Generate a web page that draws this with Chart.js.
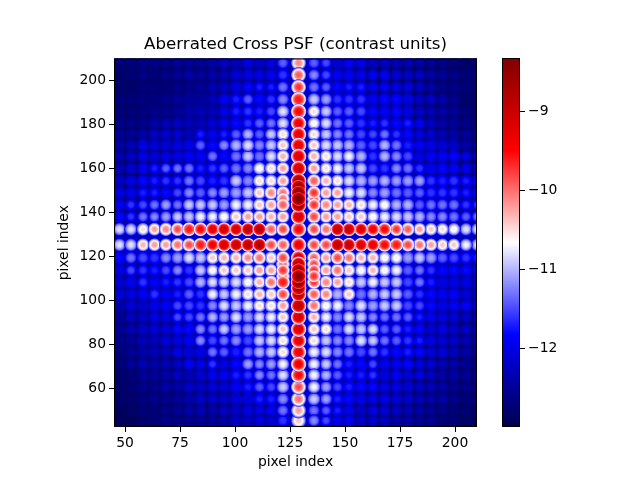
<!DOCTYPE html>
<html><head><meta charset="utf-8">
<style>html,body{margin:0;padding:0;background:#fff;width:640px;height:480px;overflow:hidden}
#wrap{position:relative;width:640px;height:480px}
canvas{position:absolute;left:0;top:0}</style>
<script src="https://cdn.jsdelivr.net/npm/chart.js@4"></script>
</head><body><div id="wrap"><canvas id="main" width="640" height="480"></canvas><canvas id="bar" width="640" height="480"></canvas></div>
<script>
const columnCentres=[47.5,52.7,58.2,63.4,68.6,73.9,79.1,84.3,89.8,95.0,100.5,105.9,111.1,116.4,121.8,128.9,135.9,141.4,146.6,151.8,157.3,162.7,168.0,173.4,178.6,183.9,189.1,194.3,199.5,205.0,210.2];
const rowCentres=[208.0,202.5,197.0,191.4,185.9,180.5,175.5,170.5,165.5,160.0,154.3,148.9,143.4,138.0,132.3,125.2,119.3,113.6,108.2,102.7,97.5,92.3,86.8,81.6,76.4,70.9,65.9,60.5,55.0,49.8,45.2];
const spotValues=[
[-12.7,-12.7,-12.6,-12.6,-12.6,-12.5,-12.5,-12.5,-12.4,-12.2,-12.3,-12.0,-12.2,-12.0,-11.4,-10.1,-11.4,-11.5,-12.1,-11.9,-12.0,-12.2,-12.2,-12.3,-12.3,-12.4,-12.5,-12.6,-12.7,-12.8,-12.8],
[-12.8,-12.7,-12.6,-12.7,-12.6,-12.5,-12.4,-12.5,-12.4,-12.3,-12.1,-12.0,-12.0,-11.9,-11.6,-9.9,-11.2,-11.5,-11.9,-11.9,-12.0,-11.9,-11.9,-12.1,-12.2,-12.2,-12.4,-12.5,-12.6,-12.7,-12.7],
[-12.8,-12.8,-12.7,-12.7,-12.7,-12.6,-12.6,-12.5,-12.3,-12.2,-12.0,-11.8,-11.7,-11.7,-11.3,-9.7,-11.3,-11.4,-11.8,-11.7,-11.7,-11.9,-11.9,-12.0,-12.0,-12.2,-12.4,-12.6,-12.6,-12.7,-12.8],
[-12.7,-12.7,-12.7,-12.7,-12.6,-12.5,-12.5,-12.5,-12.3,-11.9,-11.7,-11.4,-11.8,-11.6,-11.2,-9.6,-10.9,-11.1,-11.6,-11.6,-11.6,-11.9,-11.8,-11.8,-12.0,-12.2,-12.2,-12.4,-12.6,-12.8,-12.8],
[-12.7,-12.7,-12.7,-12.6,-12.6,-12.5,-12.4,-12.3,-12.3,-12.0,-11.7,-11.6,-11.7,-11.5,-10.8,-9.5,-10.5,-10.9,-11.4,-11.4,-11.5,-11.8,-11.9,-11.8,-12.0,-12.2,-12.3,-12.4,-12.5,-12.7,-12.8],
[-12.6,-12.6,-12.6,-12.4,-12.3,-12.2,-12.3,-12.3,-12.1,-11.9,-11.8,-11.6,-11.4,-11.3,-10.8,-9.4,-10.6,-10.8,-11.3,-11.4,-11.6,-11.7,-11.6,-11.8,-11.7,-11.9,-12.2,-12.4,-12.5,-12.6,-12.7],
[-12.5,-12.5,-12.4,-12.2,-12.1,-12.1,-12.3,-11.7,-11.9,-11.7,-11.4,-11.0,-11.4,-10.9,-10.5,-9.3,-10.5,-10.9,-11.2,-11.3,-11.5,-11.5,-11.3,-11.6,-11.8,-12.0,-12.1,-12.3,-12.4,-12.5,-12.6],
[-12.4,-12.3,-12.0,-12.1,-12.1,-12.0,-12.0,-11.4,-11.8,-11.2,-11.0,-10.8,-11.2,-10.9,-10.4,-9.3,-10.4,-10.8,-10.9,-11.0,-11.4,-11.5,-11.0,-11.3,-11.7,-11.9,-12.0,-12.1,-12.2,-12.4,-12.5],
[-12.3,-12.2,-12.0,-12.1,-12.0,-12.0,-11.9,-11.9,-11.3,-11.8,-11.3,-10.9,-11.3,-10.8,-10.3,-9.2,-10.3,-10.5,-10.8,-10.7,-11.0,-11.6,-11.0,-11.2,-11.5,-12.0,-11.9,-11.9,-11.8,-12.0,-12.3],
[-12.3,-12.1,-11.9,-11.7,-11.4,-11.3,-11.3,-11.7,-11.6,-11.4,-11.3,-11.2,-10.6,-10.5,-10.2,-9.1,-10.2,-10.5,-10.7,-10.9,-10.9,-11.5,-11.6,-11.2,-11.3,-11.6,-11.9,-11.8,-11.9,-11.9,-12.2],
[-12.2,-12.0,-11.8,-11.7,-11.6,-11.6,-11.3,-11.5,-11.7,-11.6,-10.9,-11.2,-10.5,-10.5,-10.2,-8.6,-9.9,-10.3,-10.5,-10.8,-11.0,-11.1,-11.0,-11.1,-11.1,-11.1,-11.6,-11.7,-11.6,-11.7,-11.9],
[-12.0,-11.9,-11.7,-11.7,-11.8,-11.5,-11.2,-11.4,-11.2,-11.1,-11.1,-10.9,-10.4,-10.1,-10.0,-8.3,-9.7,-10.2,-10.2,-10.7,-10.8,-11.2,-11.1,-11.3,-11.4,-11.4,-11.6,-11.6,-11.6,-11.7,-11.9],
[-11.9,-11.6,-11.5,-11.3,-11.1,-11.3,-10.9,-10.9,-10.9,-11.1,-10.7,-10.7,-10.4,-10.2,-9.9,-8.5,-9.7,-10.1,-10.2,-10.3,-10.5,-10.7,-10.6,-11.0,-11.0,-11.4,-11.3,-11.3,-11.3,-11.6,-11.6],
[-11.8,-11.6,-11.3,-11.2,-11.1,-10.9,-10.9,-10.7,-10.7,-10.6,-10.4,-10.2,-10.2,-10.3,-10.2,-9.1,-9.8,-10.2,-10.2,-10.4,-10.4,-10.6,-10.7,-10.8,-10.9,-11.0,-11.2,-11.2,-11.3,-11.4,-11.3],
[-10.8,-10.8,-10.5,-10.2,-10.1,-9.8,-9.6,-9.5,-9.3,-9.1,-9.1,-8.9,-8.8,-9.9,-9.8,-9.5,-9.8,-10.0,-8.9,-9.0,-9.2,-9.4,-9.5,-9.7,-9.9,-10.2,-10.4,-10.5,-10.6,-10.8,-10.8],
[-10.8,-10.8,-10.3,-10.2,-10.2,-10.0,-9.8,-9.6,-9.4,-9.1,-9.0,-8.9,-8.8,-9.8,-9.9,-9.4,-9.8,-9.8,-8.9,-9.0,-9.2,-9.3,-9.5,-9.6,-9.8,-10.0,-10.2,-10.4,-10.4,-10.7,-10.8],
[-11.8,-11.3,-11.5,-11.6,-11.2,-11.1,-10.8,-10.9,-10.4,-10.3,-10.3,-10.1,-10.0,-10.4,-9.8,-9.2,-9.9,-10.2,-9.8,-10.0,-10.3,-10.3,-10.6,-10.6,-11.1,-10.9,-11.1,-11.4,-11.5,-11.6,-11.7],
[-12.0,-11.5,-11.6,-11.7,-11.5,-11.2,-11.6,-10.9,-10.6,-10.4,-10.4,-10.4,-10.2,-10.2,-9.7,-8.5,-9.7,-10.2,-10.0,-10.4,-10.6,-10.3,-10.6,-10.7,-11.4,-11.3,-11.6,-11.8,-11.8,-11.8,-12.0],
[-12.1,-11.9,-11.6,-11.9,-11.7,-11.6,-11.5,-11.0,-10.8,-10.8,-10.8,-10.6,-10.3,-10.0,-9.6,-8.4,-9.7,-10.1,-10.2,-10.5,-10.9,-10.7,-10.9,-10.9,-11.5,-11.3,-11.7,-12.0,-12.0,-12.0,-12.2],
[-12.1,-12.0,-11.9,-11.6,-11.9,-11.7,-11.4,-11.6,-10.7,-10.9,-10.7,-10.5,-10.3,-10.4,-9.8,-8.8,-9.9,-10.1,-11.0,-10.4,-11.3,-11.0,-10.9,-10.9,-11.4,-11.6,-11.8,-11.9,-11.9,-12.1,-12.3],
[-12.4,-12.1,-12.2,-12.0,-11.9,-11.5,-11.5,-11.6,-11.2,-10.8,-10.9,-10.7,-10.5,-10.5,-10.2,-8.9,-10.0,-10.6,-10.7,-11.2,-10.8,-11.1,-10.9,-10.9,-11.5,-11.5,-11.8,-12.0,-11.9,-11.9,-12.2],
[-12.5,-12.2,-12.2,-12.0,-12.0,-11.5,-11.5,-11.3,-11.0,-11.1,-10.8,-11.1,-10.8,-10.7,-10.4,-9.1,-10.3,-10.7,-11.2,-10.8,-10.9,-11.2,-11.3,-11.3,-11.4,-11.7,-11.9,-12.0,-12.1,-12.2,-12.4],
[-12.5,-12.3,-12.2,-12.1,-12.1,-11.8,-11.8,-11.2,-11.3,-10.9,-11.1,-11.1,-10.8,-10.7,-10.4,-9.2,-10.4,-10.5,-11.3,-10.8,-10.9,-10.8,-11.4,-11.4,-11.7,-11.8,-12.1,-12.0,-12.2,-12.2,-12.4],
[-12.6,-12.5,-12.3,-12.3,-12.1,-12.0,-11.9,-11.2,-11.5,-11.3,-11.2,-11.5,-10.9,-10.8,-10.5,-9.3,-10.5,-10.9,-11.2,-11.2,-10.8,-10.9,-11.3,-11.4,-11.6,-11.7,-12.0,-12.1,-12.2,-12.3,-12.5],
[-12.7,-12.5,-12.4,-12.3,-12.3,-12.0,-12.1,-12.0,-11.3,-11.4,-11.7,-11.3,-11.0,-10.9,-10.5,-9.4,-10.7,-10.8,-11.2,-11.3,-11.5,-11.3,-11.6,-11.8,-11.7,-11.8,-12.1,-12.1,-12.3,-12.4,-12.6],
[-12.7,-12.5,-12.3,-12.4,-12.3,-12.2,-11.9,-12.0,-11.6,-12.0,-11.8,-11.1,-11.2,-11.1,-10.7,-9.4,-10.7,-10.9,-11.3,-11.7,-11.8,-11.5,-11.9,-11.9,-11.8,-12.0,-12.1,-12.3,-12.4,-12.5,-12.7],
[-12.8,-12.7,-12.5,-12.5,-12.4,-12.2,-12.3,-12.1,-11.9,-11.9,-11.7,-11.6,-11.2,-11.3,-10.8,-9.5,-10.7,-11.0,-11.4,-11.7,-11.7,-11.6,-12.0,-11.9,-12.1,-12.0,-12.2,-12.4,-12.4,-12.5,-12.6],
[-12.8,-12.7,-12.6,-12.6,-12.4,-12.4,-12.2,-12.2,-12.1,-12.1,-11.9,-11.7,-11.4,-11.5,-10.9,-9.8,-10.7,-11.1,-11.5,-11.7,-11.8,-11.8,-12.0,-12.0,-12.1,-12.2,-12.3,-12.4,-12.6,-12.6,-12.7],
[-12.8,-12.8,-12.7,-12.6,-12.6,-12.5,-12.4,-12.2,-12.2,-12.2,-12.1,-12.0,-11.7,-11.7,-11.2,-10.0,-10.9,-11.1,-11.7,-11.8,-12.0,-12.0,-12.0,-12.1,-12.2,-12.3,-12.4,-12.4,-12.6,-12.7,-12.7],
[-12.9,-12.8,-12.7,-12.7,-12.6,-12.5,-12.4,-12.3,-12.4,-12.2,-12.2,-12.0,-12.0,-11.9,-11.3,-10.2,-11.3,-11.4,-11.7,-11.9,-12.2,-12.0,-12.1,-12.2,-12.3,-12.4,-12.5,-12.6,-12.7,-12.7,-12.8],
[-12.9,-12.9,-12.8,-12.7,-12.6,-12.6,-12.6,-12.5,-12.5,-12.4,-12.2,-12.2,-12.0,-12.1,-11.6,-10.4,-11.2,-11.5,-11.9,-11.9,-12.2,-12.1,-12.2,-12.4,-12.4,-12.5,-12.5,-12.7,-12.7,-12.8,-12.9]
];
const extraX=[128.9,128.9,128.9,128.9,128.9,121.8,135.9,121.8,135.9,121.8,135.9];
const extraY=[151.6,146.1,116.4,110.9,105.5,146.1,146.1,110.9,110.9,116.4,116.4];
const extraV=[-8.5,-8.3,-8.8,-8.4,-8.6,-10.0,-9.8,-9.9,-9.7,-9.9,-9.8];
const floorX=[47,68,88,108,129,149,170,190,210];
const floorY=[205,185,165,145,125,105,85,65,45];
const floorValues=[
[-12.8,-12.8,-12.7,-12.5,-12.2,-12.4,-12.7,-12.8,-12.8],
[-12.8,-12.7,-12.5,-12.3,-12.1,-12.2,-12.4,-12.7,-12.8],
[-12.7,-12.5,-12.3,-12.1,-12.0,-12.1,-12.2,-12.4,-12.7],
[-12.5,-12.4,-12.2,-12.0,-11.9,-12.0,-12.1,-12.2,-12.4],
[-12.2,-12.1,-12.0,-12.0,-11.9,-12.0,-12.0,-12.1,-12.2],
[-12.4,-12.3,-12.2,-12.0,-11.9,-12.0,-12.1,-12.3,-12.4],
[-12.7,-12.5,-12.3,-12.1,-12.0,-12.1,-12.3,-12.5,-12.7],
[-12.8,-12.7,-12.5,-12.3,-12.1,-12.3,-12.5,-12.7,-12.8],
[-12.9,-12.8,-12.7,-12.5,-12.2,-12.5,-12.7,-12.8,-12.9]
];
const xTicks=[50,75,100,125,150,175,200];
const yTicks=[60,80,100,120,140,160,180,200];
const barTicks=[-9,-10,-11,-12];
const vMin=-13, vMax=-8.32;

function seismic(v,a){
  let t=(v-vMin)/(vMax-vMin); t=Math.max(0,Math.min(1,t));
  let r,g,b;
  if(t<.25){r=0;g=0;b=.3+.7*t/.25}
  else if(t<.5){const k=(t-.25)/.25;r=k;g=k;b=1}
  else if(t<.75){const k=(t-.5)/.25;r=1;g=1-k;b=1-k}
  else{const k=(t-.75)/.25;r=1-.5*k;g=0;b=0}
  return `rgba(${Math.round(r*255)},${Math.round(g*255)},${Math.round(b*255)},${a===undefined?1:a})`;
}
function localFloor(x,y){
  const j=floorX.reduce((b,q,i)=>Math.abs(q-x)<Math.abs(floorX[b]-x)?i:b,0);
  const i=floorY.reduce((b,q,k)=>Math.abs(q-y)<Math.abs(floorY[b]-y)?k:b,0);
  return floorValues[i][j];
}
const spots=[];
rowCentres.forEach((y,i)=>columnCentres.forEach((x,j)=>spots.push({x,y,v:spotValues[i][j]})));
extraX.forEach((x,i)=>spots.push({x,y:extraY[i],v:extraV[i]}));
spots.sort((a,b)=>a.v-b.v);
const floorPts=[];
floorY.forEach((y,i)=>floorX.forEach((x,j)=>floorPts.push({x,y,v:floorValues[i][j]})));

const isArm=p=>p.x===128.9&&p.v>-10.6;
const spotRadius=p=>isArm(p)?8.4:p.v>-10.2?7.6:p.v>-11.2?7.2:6.8;
const hasCore=p=>(p.x===128.9&&p.v>-9.0)||((p.x===121.8||p.x===135.9)&&p.v>-10.1&&p.y>100&&p.y<155);
function ringFill(c){
  const p=c.raw; if(!p) return 'transparent';
  const X=c.chart.scales.x.getPixelForValue(p.x),Y=c.chart.scales.y.getPixelForValue(p.y),R=spotRadius(p);
  if(!isFinite(X)||!isFinite(Y)) return 'transparent';
  const g=c.chart.ctx.createRadialGradient(X,Y,0,X,Y,R);
  const fl=localFloor(p.x,p.y);
  const end=Math.min(p.v,p.v>-11.2?Math.min(fl,-12.0):fl);
  const pow=p.v>-9.7?3.4:2.6;
  const n=14;
  for(let i=0;i<=n;i++){const k=i/n;g.addColorStop(k,seismic(p.v+(end-p.v)*Math.pow(k,pow),i==n?0:(i==n-1?.55:1)));}
  return g;
}
function floorFill(c){
  const p=c.raw; if(!p) return 'transparent';
  const X=c.chart.scales.x.getPixelForValue(p.x),Y=c.chart.scales.y.getPixelForValue(p.y);
  if(!isFinite(X)||!isFinite(Y)) return 'transparent';
  const g=c.chart.ctx.createRadialGradient(X,Y,0,X,Y,40);
  g.addColorStop(0,seismic(p.v,1));g.addColorStop(.5,seismic(p.v,.7));g.addColorStop(1,seismic(p.v,0));
  return g;
}
const frame={id:'frame',
  beforeDatasetsDraw(ch){const a=ch.chartArea,c=ch.ctx;c.save();c.fillStyle=seismic(-12.8);c.fillRect(a.left,a.top,a.right-a.left,a.bottom-a.top);c.restore();},
  afterDatasetsDraw(ch){const a=ch.chartArea,c=ch.ctx;c.save();c.strokeStyle='#000';c.lineWidth=1;c.strokeRect(a.left+.5,a.top+.5,a.right-a.left-1,a.bottom-a.top-1);c.restore();}
};
Chart.defaults.font.family="DejaVu Sans";
Chart.defaults.color='#000';
new Chart(document.getElementById('main'),{
  type:'scatter',
  data:{datasets:[
    {data:floorPts,order:3,pointRadius:40,pointBorderWidth:0,backgroundColor:floorFill,pointHoverRadius:40},
    {data:spots,order:2,pointRadius:c=>c.raw?spotRadius(c.raw):0,pointBorderWidth:0,backgroundColor:ringFill},
    {data:spots,order:1,pointRadius:c=>c.raw&&hasCore(c.raw)?spotRadius(c.raw)*.8:0,pointBorderWidth:0,backgroundColor:ringFill}
  ]},
  options:{responsive:false,animation:false,events:[],
    layout:{padding:{left:0,right:163,top:0,bottom:0}},
    plugins:{legend:{display:false},tooltip:{enabled:false},
      title:{display:true,text:'Aberrated Cross PSF (contrast units)',fullSize:false,font:{size:16.67,weight:'normal',family:"DejaVu Sans"},color:'#000',padding:{top:35,bottom:3.5}}},
    scales:{
      x:{type:'linear',min:45,max:210,afterBuildTicks:s=>{s.ticks=xTicks.map(v=>({value:v}))},afterFit:s=>{s.height=53},
        grid:{drawOnChartArea:false,drawTicks:true,tickLength:5,tickColor:'#000',tickWidth:1},border:{display:false},
        ticks:{font:{size:13.89},color:'#000',padding:3,maxRotation:0,autoSkip:false},
        title:{display:true,text:'pixel index',font:{size:13.89},color:'#000',padding:{top:0,bottom:9}}},
      y:{type:'linear',min:42.3,max:210,afterBuildTicks:s=>{s.ticks=yTicks.map(v=>({value:v}))},afterFit:s=>{s.width=114},
        grid:{drawOnChartArea:false,drawTicks:true,tickLength:5,tickColor:'#000',tickWidth:1},border:{display:false},
        ticks:{font:{size:13.89},color:'#000',padding:3,autoSkip:false},
        title:{display:true,text:'pixel index',font:{size:13.89},color:'#000',padding:{top:56,bottom:0}}}
    }},
  plugins:[frame]
});
const barFill=c=>{
  const a=c.chart.chartArea; if(!a) return 'transparent';
  const g=c.chart.ctx.createLinearGradient(0,a.bottom,0,a.top);
  for(const t of [0,.25,.5,.75,1]) g.addColorStop(t,seismic(vMin+t*(vMax-vMin)));
  return g;
};
new Chart(document.getElementById('bar'),{
  type:'bar',
  data:{labels:['PSF'],datasets:[{data:[[vMin,vMax]],backgroundColor:barFill,barPercentage:1,categoryPercentage:1,borderWidth:0}]},
  options:{responsive:false,animation:false,events:[],
    layout:{padding:{left:502,right:0,top:58,bottom:53}},
    plugins:{legend:{display:false},tooltip:{enabled:false},title:{display:false}},
    scales:{
      x:{display:false},
      y:{position:'right',min:vMin,max:vMax,afterBuildTicks:s=>{s.ticks=barTicks.map(v=>({value:v}))},afterFit:s=>{s.width=120},
        grid:{drawOnChartArea:false,drawTicks:true,tickLength:5,tickColor:'#000',tickWidth:1},border:{display:false},
        ticks:{font:{size:13.89},color:'#000',padding:3,autoSkip:false,callback:v=>'\u2212'+Math.abs(v)}}
    }},
  plugins:[{id:'barFrame',afterDatasetsDraw(ch){const a=ch.chartArea,c=ch.ctx;c.save();c.strokeStyle='#000';c.lineWidth=1;c.strokeRect(a.left+.5,a.top+.5,a.right-a.left-1,a.bottom-a.top-1);c.restore();}}]
});
</script></body></html>
